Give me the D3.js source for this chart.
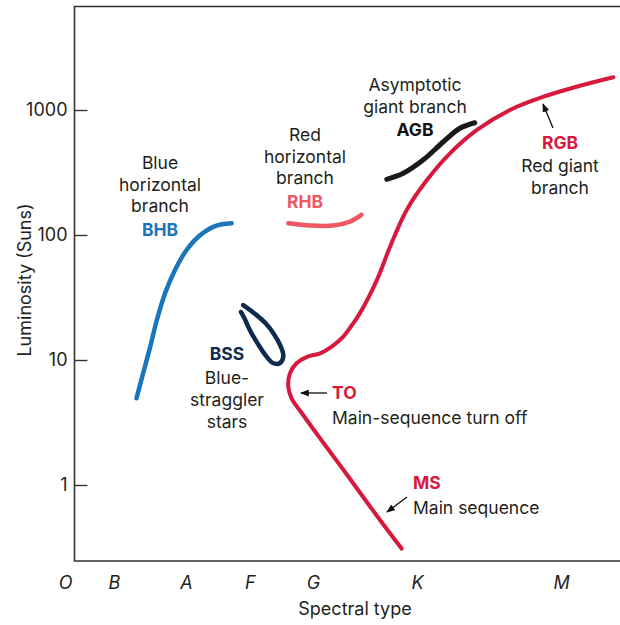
<!DOCTYPE html>
<html>
<head>
	<meta charset="utf-8">
	<title>Cluster HR diagram</title>
	<script src="https://d3js.org/d3.v7.min.js"></script>
	<style>
		body { margin: 0; background: #fff; }
		svg text { font-family: Inter, "Open Sans", sans-serif; fill: #231f20; }
	</style>
</head>
<body>
<div id="chart"></div>
<script type="text/javascript">

	// spectral classes along the bottom (position in arbitrary colour units)
	var spectralTypes = ["O", "B", "A", "F", "G", "K", "M"];
	var spectralPos = [0, 8.9, 22.0, 33.6, 45.1, 64.0, 90.2];
	var lumTicks = [1, 10, 100, 1000];

	// main sequence -> turn off -> subgiant -> red giant branch
	var msX = [61.2, 56.8, 51.5, 46.6, 43.3, 41.2, 40.6, 40.9, 42.1, 44.0, 46.4, 48.5, 50.6, 52.2, 53.6, 56.7, 59.1, 62.1, 65.8, 70.0, 74.9, 80.9, 87.0, 93.0, 99.7];
	var msL = [0.31, 0.56, 1.17, 2.29, 3.63, 4.94, 6.11, 7.83, 9.41, 10.6, 11.3, 12.8, 15.4, 19.1, 23.6, 43.6, 80.6, 158, 275, 450, 692, 1000, 1277, 1535, 1827];

	// blue horizontal branch
	var bhbX = [13.0, 14.2, 15.5, 16.7, 18.2, 20.0, 22.1, 24.6, 27.3, 30.3];
	var bhbL = [4.94, 7.83, 12.8, 20.9, 34.2, 52.5, 75.9, 100, 118, 124];

	// red horizontal branch
	var rhbX = [40.6, 44.6, 48.8, 51.8, 53.9];
	var rhbL = [124, 119, 119, 128, 145];

	// asymptotic giant branch
	var agbX = [58.5, 61.5, 65.1, 68.8, 71.8, 74.5];
	var agbL = [279, 312, 398, 557, 714, 791];

	// blue stragglers (open loop)
	var bssX = [32.4, 34.6, 36.6, 38.0, 39.1, 39.7, 39.1, 37.8, 36.4, 35.1, 33.6, 32.6, 32.0];
	var bssL = [27.5, 23.3, 19.4, 16.1, 13.2, 10.8, 9.46, 9.46, 11.0, 13.4, 17.4, 21.7, 24.2];

	var width = 620, height = 625;
	var frame = {left: 74.5, top: 6.5, right: 630, bottom: 561};
	var fontSize = "17.5px";

	var svg = d3.select("#chart").append("svg")
		.attr("width", width)
		.attr("height", height);

	var x = d3.scaleLinear().domain([0, 100]).range([65, 615]);
	var y = d3.scaleLog().domain([1, 1000]).range([485, 110]);

	// frame (open on the right)
	svg.append("path")
		.attr("d", "M" + frame.right + "," + frame.top + "H" + frame.left + "V" + frame.bottom + "H" + frame.right)
		.style("fill", "none")
		.style("stroke", "#333")
		.style("stroke-width", 1.6);

	// y axis, ticks pointing inwards
	var yAxis = svg.append("g")
		.attr("transform", "translate(" + frame.left + ",0)")
		.call(d3.axisLeft(y).tickValues(lumTicks).tickFormat(d3.format("d")).tickSize(-13).tickPadding(7));
	yAxis.select(".domain").remove();
	yAxis.selectAll(".tick line").style("stroke", "#333").style("stroke-width", 1.4);
	yAxis.selectAll(".tick text")
		.style("font-family", "Inter, sans-serif")
		.style("font-size", "18px")
		.style("fill", "#231f20");

	// x axis: spectral letters only
	var xAxis = svg.append("g")
		.attr("transform", "translate(0," + frame.bottom + ")")
		.call(d3.axisBottom(x).tickValues(spectralPos).tickFormat(function(d, i) { return spectralTypes[i]; }).tickSize(0).tickPadding(15));
	xAxis.select(".domain").remove();
	xAxis.selectAll(".tick text")
		.style("font-family", "Inter, sans-serif")
		.style("font-size", "18px")
		.style("font-style", "italic")
		.style("fill", "#231f20");

	svg.append("text")
		.attr("x", 355).attr("y", 615)
		.attr("text-anchor", "middle")
		.style("font-size", "18px")
		.text("Spectral type");

	svg.append("text")
		.attr("transform", "translate(31,280) rotate(-90)")
		.attr("text-anchor", "middle")
		.style("font-size", "18px")
		.text("Luminosity (Suns)");

	// curves
	var line = d3.line()
		.x(function(d) { return x(d[0]); })
		.y(function(d) { return y(d[1]); })
		.curve(d3.curveCatmullRom.alpha(0.5));

	var branches = [
		{xs: bhbX, ls: bhbL, color: "#1b75bb", w: 4.5},
		{xs: rhbX, ls: rhbL, color: "#ef5863", w: 4.5},
		{xs: agbX, ls: agbL, color: "#1a1a1a", w: 5},
		{xs: bssX, ls: bssL, color: "#0f2b4c", w: 4.5},
		{xs: msX, ls: msL, color: "#d7193d", w: 4}
	];

	svg.append("g").selectAll("path")
		.data(branches)
		.enter()
		.append("path")
		.attr("d", function(b) { return line(b.xs.map(function(v, i) { return [v, b.ls[i]]; })); })
		.style("fill", "none")
		.style("stroke", function(b) { return b.color; })
		.style("stroke-width", function(b) { return b.w; })
		.style("stroke-linecap", "round")
		.style("stroke-linejoin", "round");

	// annotation blocks, one text element each, lines as tspans
	var blocks = [
		{x: 160, y: 163, lines: [["Blue", 0], ["horizontal", 21.5], ["branch", 21.5], ["BHB", 24, "#1b75bb"]]},
		{x: 305, y: 135, lines: [["Red", 0], ["horizontal", 21.5], ["branch", 21.5], ["RHB", 24, "#ef5863"]]},
		{x: 415, y: 85, lines: [["Asymptotic", 0], ["giant branch", 22], ["AGB", 23, "#111"]]},
		{x: 560, y: 143, lines: [["RGB", 0, "#d7193d"], ["Red giant", 23], ["branch", 21.5]]},
		{x: 227, y: 354, lines: [["BSS", 0, "#0f2b4c"], ["Blue-", 24], ["straggler", 22], ["stars", 21.5]]},
		{x: 332, y: 393, a: "start", lines: [["TO", 0, "#d7193d"], ["Main-sequence turn off", 25]]},
		{x: 413, y: 483, a: "start", lines: [["MS", 0, "#d7193d"], ["Main sequence", 25]]}
	];

	var blockText = svg.append("g").selectAll("text")
		.data(blocks)
		.enter()
		.append("text")
		.attr("y", function(d) { return d.y; })
		.attr("text-anchor", function(d) { return d.a || "middle"; })
		.style("font-size", fontSize);

	blockText.selectAll("tspan")
		.data(function(d) { return d.lines.map(function(l) { return {x: d.x, t: l[0], dy: l[1], c: l[2]}; }); })
		.enter()
		.append("tspan")
		.attr("x", function(d) { return d.x; })
		.attr("dy", function(d, i) { return i === 0 ? "0.35em" : d.dy; })
		.style("font-weight", function(d) { return d.c ? 700 : 400; })
		.style("fill", function(d) { return d.c || "#231f20"; })
		.text(function(d) { return d.t; });

	svg.append("defs").append("marker")
		.attr("id", "arrow")
		.attr("viewBox", "0 0 10 8")
		.attr("refX", 9).attr("refY", 4)
		.attr("markerWidth", 9).attr("markerHeight", 7)
		.attr("markerUnits", "userSpaceOnUse")
		.attr("orient", "auto")
		.append("path")
		.attr("d", "M0,0 L10,4 L0,8 z")
		.style("fill", "#111");

	var arrows = [
		[553, 128, 543, 104],
		[327, 393, 301, 393],
		[407, 497, 387, 512]
	];

	svg.append("g").selectAll("line")
		.data(arrows)
		.enter()
		.append("line")
		.attr("x1", function(d) { return d[0]; })
		.attr("y1", function(d) { return d[1]; })
		.attr("x2", function(d) { return d[2]; })
		.attr("y2", function(d) { return d[3]; })
		.style("stroke", "#111")
		.style("stroke-width", 1.3)
		.attr("marker-end", "url(#arrow)");

</script>
</body>
</html>
